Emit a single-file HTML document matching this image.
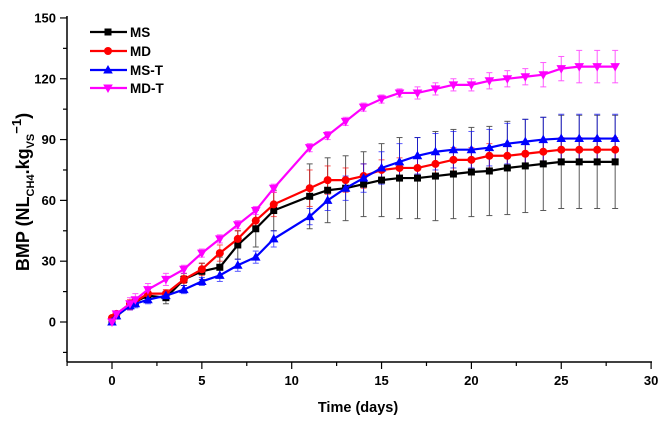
<!DOCTYPE html>
<html><head><meta charset="utf-8"><style>
body{margin:0;background:#fff}
svg{display:block;font-family:"Liberation Sans",Arial,sans-serif;font-weight:bold}
</style></head><body>
<svg id="s" width="666" height="424" xmlns="http://www.w3.org/2000/svg"></svg>
<script>
const s=document.getElementById('s');
const X=d=>112+d*17.97, Y=v=>322-v*2.027;
let h='';
h+=`<line x1="67" y1="16" x2="67" y2="362" stroke="#000" stroke-width="1.5"/>`;
h+=`<line x1="67" y1="362" x2="652" y2="362" stroke="#000" stroke-width="1.5"/>`;
for(let v=-15;v<=150;v+=15){const y=Y(v);const maj=v%30==0;h+=`<line x1="${maj?60:63}" y1="${y}" x2="67" y2="${y}" stroke="#000" stroke-width="1.2"/>`;if(maj)h+=`<text x="56" y="${y+4.5}" font-size="13" text-anchor="end">${v}</text>`;}
for(let d=-2.5;d<=30;d+=2.5){const x=X(d);const maj=Math.abs(d%5)<0.01;h+=`<line x1="${x}" y1="362" x2="${x}" y2="${maj?369:366}" stroke="#000" stroke-width="1.2"/>`;if(maj)h+=`<text x="${x}" y="385" font-size="13" text-anchor="middle">${d}</text>`;}
h+=`<text x="358" y="412" font-size="14.5" text-anchor="middle">Time (days)</text>`;
h+=`<text transform="translate(29,192) rotate(-90)" font-size="18" text-anchor="middle">BMP (NL<tspan font-size="11" dy="5">CH4</tspan><tspan dy="-5">.kg</tspan><tspan font-size="11" dy="5">VS</tspan><tspan dy="-13" font-size="13">−1</tspan><tspan dy="8">)</tspan></text>`;
const days=[0,0.25,1,1.3,2,3,4,5,6,7,8,9,11,12,13,14,15,16,17,18,19,20,21,22,23,24,25,26,27,28];
const S=[
{c:'#000',m:'sq',e:[1,1,2,2,2,3,3,4,5,7,9,10,16,16,16,16,18,20,20,22,22,22,22,23,23,23,23,23,23,23],
v:[0,3,8,10,13,12,21,25,27,38,46,55,62,65,66,68,70,71,71,72,73,74,74.5,76,77,78,79,79,79,79]},
{c:'#ff0000',m:'ci',e:[1,1,2,2,2,2,2,3,4,4,5,6,9,7,6,6,5,5,5,5,6,6,6,6,6,6,6,6,6,6],
v:[2,4,9,10,14,14,21,26,34,41,50,58,66,70,70,72,75,76,76,78,80,80,82,82,83,84,85,85,85,85]},
{c:'#0000ff',m:'tu',e:[1,1,2,2,2,2,2,2,3,3,3,4,4,5,6,7,8,9,9,9,9,9,9,10,11,11,12,12,12,12],
v:[0,3,8,9,11,13,16,20,23,28,32,41,52,60,66,71,76,79,82,84,85,85,86,88,89,90,90.5,90.5,90.5,90.5]},
{c:'#ff00ff',m:'td',e:[1,1,3,3,3,3,2,2,2,2,2,2,2,2,2,2,2,2,3,3,3,3,4,4,4,6,6,8,8,8],
v:[0,4,9,11,16,21,26,34,41,48,55,66,86,92,99,106,110,113,113,115,117,117,119,120,121,122,125,126,126,126]}];
function mk(m,x,y,c){
 if(m=='sq')return `<rect x="${x-3.5}" y="${y-3.5}" width="7" height="7" fill="${c}"/>`;
 if(m=='ci')return `<circle cx="${x}" cy="${y}" r="4" fill="${c}"/>`;
 if(m=='tu')return `<polygon points="${x},${y-5} ${x-4.8},${y+3.5} ${x+4.8},${y+3.5}" fill="${c}"/>`;
 return `<polygon points="${x},${y+5} ${x-4.8},${y-3.5} ${x+4.8},${y-3.5}" fill="${c}"/>`;
}
S.forEach(sr=>{
 days.forEach((d,i)=>{const x=X(d),y1=Y(sr.v[i]+sr.e[i]),y2=Y(sr.v[i]-sr.e[i]);
 h+=`<g stroke="${sr.c}" stroke-width="1" opacity="0.65"><line x1="${x}" y1="${y1}" x2="${x}" y2="${y2}"/><line x1="${x-3}" y1="${y1}" x2="${x+3}" y2="${y1}"/><line x1="${x-3}" y1="${y2}" x2="${x+3}" y2="${y2}"/></g>`;});
});
S.forEach(sr=>{
 h+=`<polyline fill="none" stroke="${sr.c}" stroke-width="2.2" points="${days.map((d,i)=>X(d)+','+Y(sr.v[i])).join(' ')}"/>`;
 days.forEach((d,i)=>h+=mk(sr.m,X(d),Y(sr.v[i]),sr.c));
});
const L=[['MS',32],['MD',51],['MS-T',70],['MD-T',88]];
L.forEach((l,i)=>{const c=S[i].c;h+=`<line x1="90" y1="${l[1]}" x2="127" y2="${l[1]}" stroke="${c}" stroke-width="2.2"/>`+mk(S[i].m,108,l[1],c)+`<text x="130" y="${l[1]+5}" font-size="13.5">${l[0]}</text>`;});
s.innerHTML=h;
</script>
</body></html>
